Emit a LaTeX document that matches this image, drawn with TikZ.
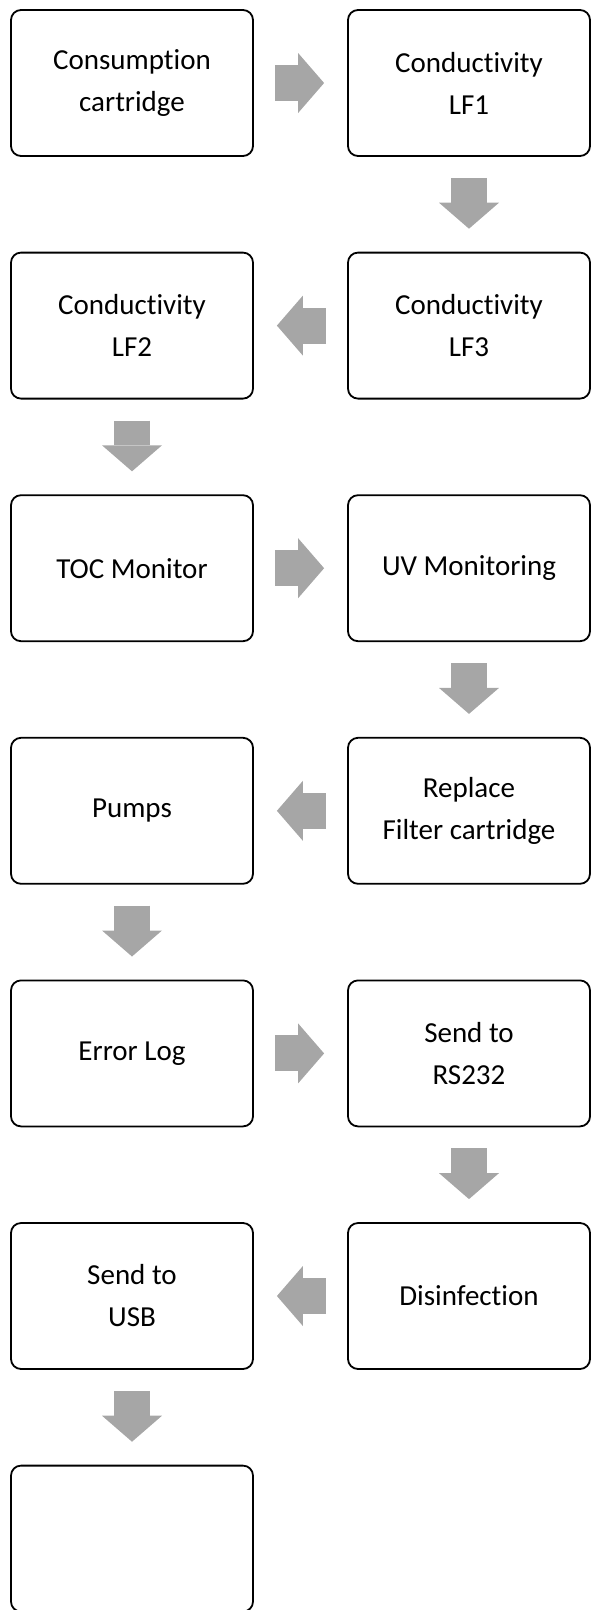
\documentclass[tikz,border=0pt]{standalone}
\usepackage{fontspec}
\setmainfont{Carlito}[Ligatures=NoCommon]
\usepackage{tikz}
\usetikzlibrary{arrows.meta}

\definecolor{arrowgray}{RGB}{166,166,166}
\tikzset{
  stepbox/.style={draw, line width=1.8pt, rounded corners=10pt, minimum width=242pt, minimum height=146pt, inner sep=0pt, align=center, font={\fontsize{29}{42}\selectfont}},
  flowarrow/.style={draw=arrowgray, line width=36pt, -{Triangle[width=60pt,length=26pt,line width=0pt]}, shorten <=21pt, shorten >=23pt}
}

\begin{document}
\begin{tikzpicture}[x=1pt,y=1pt,yscale=-1,xscale=1]
\path[use as bounding box] (0,0) rectangle (590,1610);

%Shape: Rounded Rectangle [row 1]
\node [stepbox] (cons) at (132,83) {Consumption\\cartridge};
\node [stepbox] (lfone) at (469,83) {Conductivity\\LF1};
%Shape: Rounded Rectangle [row 2]
\node [stepbox] (lftwo) at (132,325.6) {Conductivity\\LF2};
\node [stepbox] (lfthree) at (469,325.6) {Conductivity\\LF3};
%Shape: Rounded Rectangle [row 3]
\node [stepbox] (toc) at (132,568.2) {TOC Monitor};
\node [stepbox] (uv) at (469,568.2) {UV Monitoring};
%Shape: Rounded Rectangle [row 4]
\node [stepbox] (pumps) at (132,810.8) {Pumps};
\node [stepbox] (filter) at (469,810.8) {Replace\\Filter cartridge};
%Shape: Rounded Rectangle [row 5]
\node [stepbox] (errlog) at (132,1053.4) {Error Log};
\node [stepbox] (rs) at (469,1053.4) {Send to\\RS232};
%Shape: Rounded Rectangle [row 6]
\node [stepbox] (usb) at (132,1296) {Send to\\USB};
\node [stepbox] (disinf) at (469,1296) {Disinfection};
%Shape: Rounded Rectangle [row 7]
\node [stepbox] (blank) at (132,1538.6) {};

%Block Arrows
\draw [flowarrow] (cons) -- (lfone);
\draw [flowarrow] (lfone) -- (lfthree);
\draw [flowarrow] (lfthree) -- (lftwo);
\draw [flowarrow] (lftwo) -- (toc);
\draw [flowarrow] (toc) -- (uv);
\draw [flowarrow] (uv) -- (filter);
\draw [flowarrow] (filter) -- (pumps);
\draw [flowarrow] (pumps) -- (errlog);
\draw [flowarrow] (errlog) -- (rs);
\draw [flowarrow] (rs) -- (disinf);
\draw [flowarrow] (disinf) -- (usb);
\draw [flowarrow] (usb) -- (blank);

\end{tikzpicture}
\end{document}
